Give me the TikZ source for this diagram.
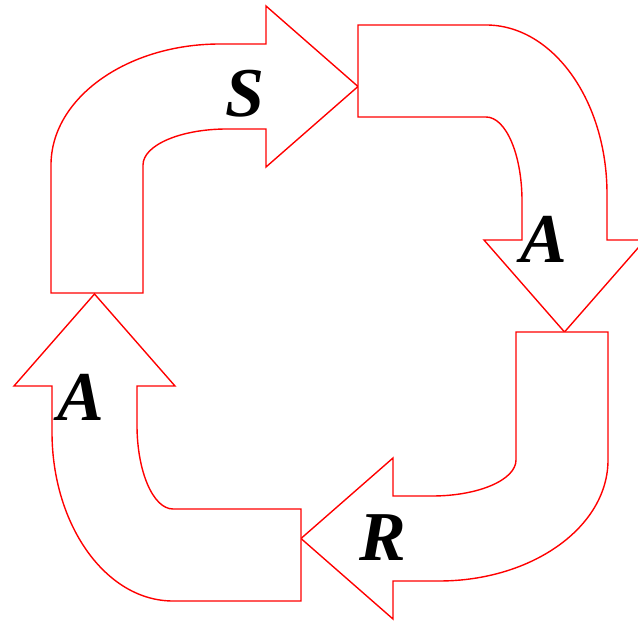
\documentclass[tikz,border=0pt]{standalone}
\usepackage{fontspec}
\setmainfont{Liberation Serif}
\begin{document}
\begin{tikzpicture}[x=1pt,y=1pt,
  bentarrow/.style={draw=red, fill=white, line width=1.4pt, line join=miter},
  lbl/.style={font=\fontsize{70}{70}\selectfont\bfseries\itshape, anchor=base, inner sep=0pt},
  bent/.pic={
    \draw[bentarrow] (0,0) -- (0,128)
      arc[start angle=180, end angle=90, x radius=169pt, y radius=121pt]
      -- (215,249) -- (215,287) -- (307,206.5) -- (215,126) -- (215,164) -- (176,164)
      arc[start angle=90, end angle=180, x radius=84pt, y radius=36pt]
      -- (92,0) -- cycle;
  }]
\useasboundingbox (0,0) rectangle (638,622);
\clip (0,0) rectangle (638,622);

% four bent arrows forming the cycle
\pic at (51,329) {bent};
\pic[rotate=-90] at (358,597) {bent};
\pic[rotate=180] at (608,290) {bent};
\pic[rotate=90] at (301,21) {bent};

% labels
\node[lbl] (s) at (245,505) {S};
\node[lbl] (a1) at (544,359) {A};
\node[lbl] (r) at (383,62) {R};
\node[lbl] (a2) at (81,201) {A};
\end{tikzpicture}
\end{document}
